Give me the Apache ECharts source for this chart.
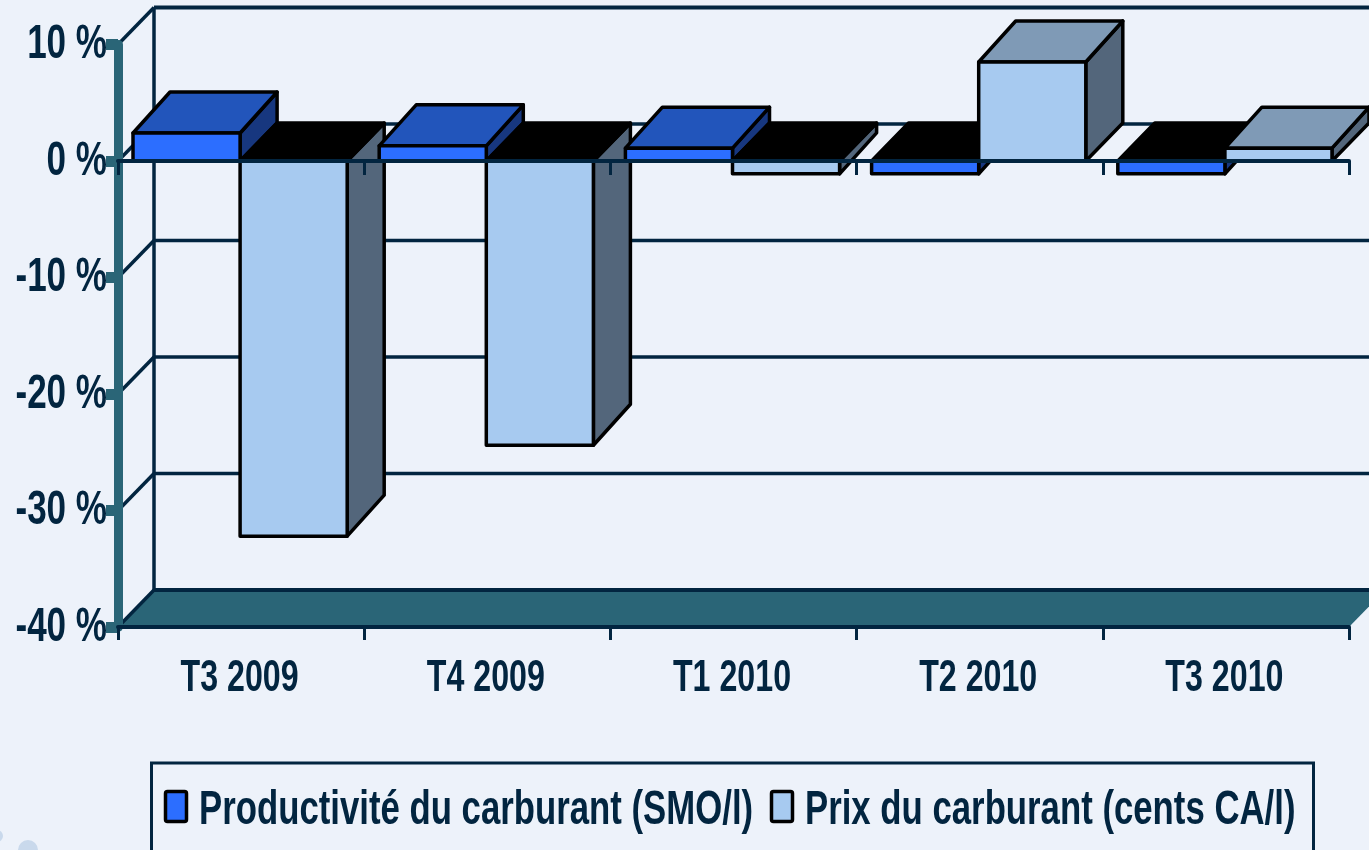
<!DOCTYPE html>
<html>
<head>
<meta charset="utf-8">
<style>
  html, body { margin: 0; padding: 0; background: #edf2fa; overflow: hidden; }
  #chart { width: 1369px; height: 850px; }
</style>
<script src="https://cdn.jsdelivr.net/npm/echarts@6/dist/echarts.min.js"></script>
</head>
<body>
<div id="chart"></div>
<script>
const categories = ['T3 2009', 'T4 2009', 'T1 2010', 'T2 2010', 'T3 2010']
const productivite = [2.4, 1.3, 1.1, -1.1, -1.1]
const prix = [-32.2, -24.4, -1.1, 8.5, 1.1]
const wallTicks = [10, 0, -10, -20, -30, -40]
const legendNames = ['Productivité du carburant (SMO/l)', 'Prix du carburant (cents CA/l)']

const navy = '#022540'
const teal = '#2a6577'
const blueFront = '#2c6eff'
const lightFront = '#a7caf0'
const font = '"Liberation Sans", Arial, sans-serif'

// pixel offset of the fake 3d depth
const wallDepth = [36, -37]
const barDepthX = 37
const barDepthZero = -38
const barDepthValue = -41

const poly = (points, fill, z2) => ({
  type: 'polygon',
  z2: z2,
  shape: { points: points },
  style: { fill: fill, stroke: '#000', lineWidth: 3.5, lineJoin: 'round' }
})

// no narrow font installed, so the text is squeezed with scaleX
const squeezed = (text, x, y, size, scaleX, align) => ({
  type: 'text',
  x: x,
  y: y,
  scaleX: scaleX,
  z2: 20,
  style: {
    text: text,
    x: 0,
    y: 0,
    align: align,
    verticalAlign: 'middle',
    fill: navy,
    fontFamily: font,
    fontWeight: 'bold',
    fontSize: size
  }
})

const renderBar = (colors, side) => (params, api) => {
  const p0 = api.coord([api.value(0), 0])
  const p1 = api.coord([api.value(0), api.value(1)])
  const w = api.size([1, 0])[0] * 0.435
  const x0 = p0[0] - 1 + (side === 0 ? -w : 0)
  const x1 = x0 + w
  const negative = api.value(1) < 0
  const up = Math.min(p0[1], p1[1])
  const down = Math.max(p0[1], p1[1])
  const dx = barDepthX
  const dyUp = negative ? barDepthZero : barDepthValue
  const dyDown = negative ? barDepthValue : barDepthZero
  return {
    type: 'group',
    children: [
      poly([[x1, up], [x1 + dx, up + dyUp], [x1 + dx, down + dyDown], [x1, down]], colors.side, 1),
      poly([[x0, up], [x0 + dx, up + dyUp], [x1 + dx, up + dyUp], [x1, up]], negative ? '#000' : colors.top, 2),
      poly([[x0, up], [x1, up], [x1, down], [x0, down]], colors.front, 3)
    ]
  }
}

const renderWall = (params, api) => {
  const v = api.value(0)
  const p = api.coord([0, v])
  const band = api.size([1, 0])[0]
  const x = p[0] - band / 2
  const y = p[1]
  const bx = x + wallDepth[0]
  const by = y + wallDepth[1]
  const line = { stroke: navy, lineWidth: 3.5, fill: null }
  const children = []
  if (v === wallTicks[wallTicks.length - 1]) {
    children.push({
      type: 'polygon',
      shape: { points: [[x, y], [bx, by], [bx + band * categories.length, by], [x + band * categories.length, y]] },
      style: { fill: teal }
    })
  }
  children.push({ type: 'line', shape: { x1: x, y1: y, x2: bx, y2: by }, style: line })
  children.push({ type: 'line', shape: { x1: bx, y1: by, x2: 1369, y2: by }, style: { stroke: navy, lineWidth: v === -40 || v === 10 ? 4 : 3.5 } })
  if (v === wallTicks[0]) {
    const bottom = api.coord([0, wallTicks[wallTicks.length - 1]])[1] + wallDepth[1]
    children.push({ type: 'line', shape: { x1: bx, y1: by, x2: bx, y2: bottom }, style: line })
  }
  return { type: 'group', children: children }
}

const renderYLabel = (params, api) => {
  const v = api.value(0)
  const p = api.coord([0, v])
  return squeezed(`${v} %`, p[0] - api.size([1, 0])[0] / 2 - 11, p[1] + 0.5, 48, 0.73, 'right')
}

const renderXLabel = (params, api) => {
  const i = api.value(0)
  const p = api.coord([i, -40])
  return squeezed(categories[i], p[0] - 1.5, p[1] + 52, 45, 0.715, 'center')
}

const myChart = echarts.init(document.getElementById('chart'))

myChart.setOption({
  animation: false,
  backgroundColor: '#edf2fa',
  grid: { left: 118, right: 20, top: 44.5, bottom: 223 },
  xAxis: [
    {
      type: 'category',
      data: categories,
      position: 'bottom',
      z: 10,
      axisLine: { onZero: false, lineStyle: { color: navy, width: 4 } },
      axisTick: { show: true, length: 13, lineStyle: { color: navy, width: 3 } },
      axisLabel: { show: false }
    },
    {
      type: 'category',
      data: categories,
      position: 'bottom',
      z: 10,
      axisLine: { onZero: true, lineStyle: { color: navy, width: 4 } },
      axisTick: { show: true, length: 14, lineStyle: { color: navy, width: 3 } },
      axisLabel: { show: false }
    }
  ],
  yAxis: {
    type: 'value',
    min: -40,
    max: 10,
    interval: 10,
    z: 9,
    axisLine: { show: true, onZero: false, lineStyle: { color: teal, width: 9 } },
    axisTick: { show: true, length: 12, lineStyle: { color: teal, width: 11 } },
    splitLine: { show: false },
    axisLabel: { show: false }
  },
  graphic: [
    { type: 'circle', shape: { cx: 28, cy: 850, r: 10 }, style: { fill: '#c9d9ec' } },
    { type: 'circle', shape: { cx: -3, cy: 836, r: 6 }, style: { fill: '#c9d9ec' } },
    { type: 'rect', shape: { x: 151.5, y: 763, width: 1162, height: 120 }, style: { fill: 'none', stroke: navy, lineWidth: 3 } },
    { type: 'rect', shape: { x: 165.5, y: 791.5, width: 21, height: 30, r: 2 }, style: { fill: blueFront, stroke: '#000', lineWidth: 3.5 } },
    { type: 'rect', shape: { x: 771.5, y: 791.5, width: 21, height: 30, r: 2 }, style: { fill: lightFront, stroke: '#000', lineWidth: 3.5 } },
    squeezed(legendNames[0], 199, 811, 48, 0.724, 'left'),
    squeezed(legendNames[1], 805, 811, 48, 0.724, 'left')
  ],
  series: [
    {
      name: 'wall',
      type: 'custom',
      z: 1,
      encode: { y: 0 },
      data: wallTicks.map(v => [v]),
      renderItem: renderWall
    },
    {
      name: legendNames[0],
      type: 'custom',
      z: 2,
      encode: { x: 0, y: 1 },
      data: productivite.map((v, i) => [i, v]),
      renderItem: renderBar({ front: blueFront, top: '#2255bb', side: '#17377f' }, 0)
    },
    {
      name: legendNames[1],
      type: 'custom',
      z: 2,
      encode: { x: 0, y: 1 },
      data: prix.map((v, i) => [i, v]),
      renderItem: renderBar({ front: lightFront, top: '#7f9ab6', side: '#53667b' }, 1)
    },
    {
      name: 'yLabels',
      type: 'custom',
      z: 12,
      encode: { y: 0 },
      data: wallTicks.map(v => [v]),
      renderItem: renderYLabel
    },
    {
      name: 'xLabels',
      type: 'custom',
      z: 12,
      encode: { x: 0 },
      data: categories.map((c, i) => [i]),
      renderItem: renderXLabel
    }
  ]
})
</script>
</body>
</html>
